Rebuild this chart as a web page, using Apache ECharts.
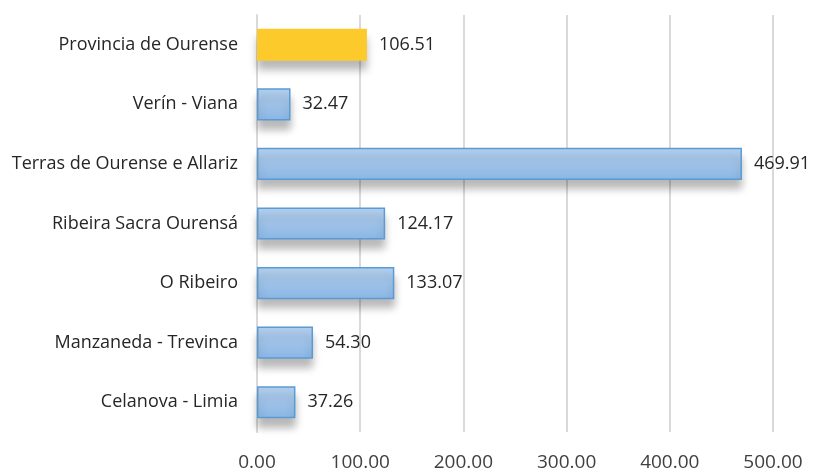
<!DOCTYPE html>
<html>
<head>
<meta charset="utf-8">
<script src="https://cdn.jsdelivr.net/npm/echarts@6/dist/echarts.min.js"></script>
<style>
  html, body { margin: 0; padding: 0; background: #fff; }
  #chart { width: 817px; height: 472px; }
</style>
</head>
<body>
<div id="chart"></div>
<script>
// categories, top to bottom
const comarcas = [
  'Provincia de Ourense',
  'Verín - Viana',
  'Terras de Ourense e Allariz',
  'Ribeira Sacra Ourensá',
  'O Ribeiro',
  'Manzaneda - Trevinca',
  'Celanova - Limia'
];
const valores = [106.51, 32.47, 469.91, 124.17, 133.07, 54.30, 37.26];
const xTicks = [0, 100, 200, 300, 400, 500];

const blueBar = {
  color: new echarts.graphic.LinearGradient(0, 0, 0, 1, [
    {offset: 0, color: '#b5d0ee'},
    {offset: 1, color: '#8ab6e4'}
  ]),
  borderColor: '#5b9bd5',
  borderWidth: 1.5,
  shadowColor: 'rgba(0,0,0,0.28)',
  shadowBlur: 8,
  shadowOffsetY: 9
};
const yellowBar = {
  color: '#fdca2b',
  borderWidth: 0,
  shadowColor: 'rgba(0,0,0,0.28)',
  shadowBlur: 8,
  shadowOffsetY: 9
};

const chart = echarts.init(document.getElementById('chart'));
chart.setOption({
  animation: false,
  grid: {left: 257, right: 44, top: 15, bottom: 40},
  xAxis: {
    type: 'value',
    min: xTicks[0],
    max: xTicks[xTicks.length - 1],
    interval: 100,
    axisLine: {show: false},
    axisTick: {show: false},
    splitLine: {lineStyle: {color: '#d9d9d9', width: 2}},
    axisLabel: {
      margin: 21,
      color: '#404040',
      fontSize: 19,
      fontFamily: 'Open Sans',
      formatter: v => v.toFixed(2)
    }
  },
  yAxis: {
    type: 'category',
    inverse: true,
    data: comarcas,
    axisLine: {show: true, lineStyle: {color: '#d9d9d9', width: 2}},
    axisTick: {show: false},
    axisLabel: {
      margin: 19,
      color: '#262626',
      fontSize: 18,
      fontFamily: 'Open Sans'
    }
  },
  series: [{
    type: 'bar',
    barWidth: '54%',
    data: valores.map((v, i) => ({
      value: v,
      itemStyle: i === 0 ? yellowBar : blueBar
    })),
    label: {
      show: true,
      position: 'right',
      distance: 12,
      color: '#262626',
      fontSize: 18,
      fontFamily: 'Open Sans',
      formatter: p => p.value.toFixed(2)
    }
  }]
});
</script>
</body>
</html>
